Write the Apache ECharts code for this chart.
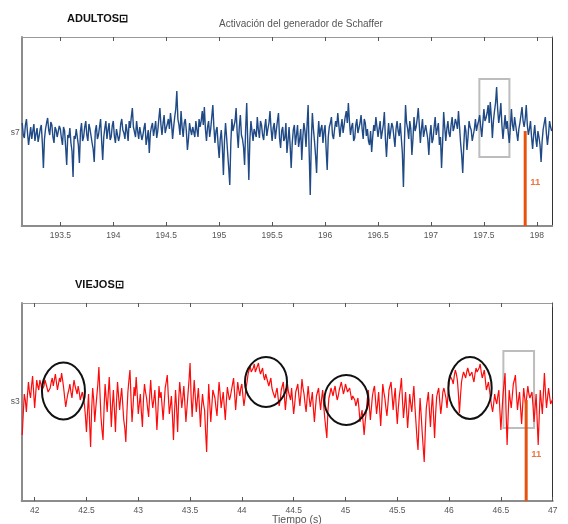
<!DOCTYPE html>
<html>
<head>
<meta charset="utf-8">
<script src="https://cdn.jsdelivr.net/npm/echarts@6/dist/echarts.min.js"></script>
<style>
  html, body { margin: 0; padding: 0; background: #fff; }
  #chart { width: 568px; height: 524px; }
</style>
</head>
<body>
<div id="chart"></div>
<script>
// ---- ADULTOS: channel s7 (evenly sampled between first and last time) ----
const adultFirst = 193.14;   // s
const adultLast = 198.14;    // s
const adultSignal = [
  10, -2, -5, 8, 14, 0, -12, -3, 6, -6, 2, 9, -8, -1, 5, -9, -3, 4, 8, -10,
  -35, -6, 4, 10, 15, 3, -2, 11, 8, -4, -10, 6, 3, -4, -6, 7, 4, -5, -12, 6,
  2, -14, -32, -2, -5, 5, -10, -18, -44, -3, -6, 4, 6, -12, -30, 2, 10, -8, -4, 6,
  12, -2, -8, 9, 4, -3, -10, -16, -29, 2, 8, -6, -2, 6, 14, -8, -27, -4, 5, 12,
  -6, 3, 10, -7, -4, 7, 12, -3, -10, 4, 6, -8, -3, 9, 14, 3, 0, -6, 9, 2,
  -8, 12, 5, 16, 25, 6, 4, -4, 12, 2, -6, 6, 8, -7, -2, 5, 10, -12, -5, 3,
  -20, 0, 6, 10, -3, 4, 12, -5, 2, 14, 25, 8, -2, 10, 18, 0, 5, 9, 14, 4,
  20, 10, -6, 6, 16, 24, 42, 14, 8, -2, 22, 6, -4, 10, 14, 2, -17, -6, 10, 3,
  -2, 6, 8, -4, 12, 3, -4, 14, 6, 12, 22, 8, 26, 4, -8, 6, 12, -4, 4, 16,
  28, 6, -10, 2, 6, -12, -25, -6, 3, -14, -42, -8, 10, -4, -20, -35, -52, -10, 14, 2,
  4, 12, 25, 0, -15, 6, 18, -2, -6, -14, -32, 4, 30, -10, -47, -6, 12, 2, -8, 4,
  6, -4, 16, 3, -5, 12, 8, -2, -7, 6, 14, -3, 4, 10, 22, 4, -8, 5, 10, -6,
  3, 12, 20, -5, -15, 2, 6, -8, -5, 10, -20, -8, 6, -12, -35, -10, 3, 8, -12, -2,
  8, -14, -6, 4, -27, -4, 10, 2, -14, 8, 28, -20, -62, -8, 20, 4, -8, -22, -40, -6,
  12, -4, 4, 8, -10, 2, 8, -16, -37, -4, 6, 10, 16, -2, -6, 4, 12, 6, 20, 8,
  -4, 6, 14, 0, 8, 16, 22, 10, 30, 12, -2, 6, 10, -8, -5, 8, 14, 0, 2, 10,
  18, 4, -6, 14, 10, -3, 4, -8, -12, 2, -19, -4, 8, 2, 16, 6, -4, 4, 12, -6,
  -8, 8, 21, -6, -24, -4, 10, -6, 2, 10, 6, -4, -14, 4, 12, 2, -3, 10, 8, -20,
  -54, -8, 28, 10, 4, -6, 12, 4, -22, -6, 16, 2, 6, 14, 25, 8, -10, 4, 14, -4,
  2, 8, 10, -6, -22, -2, 8, -10, -6, 6, 16, -2, 4, 10, -12, -4, -35, -10, 21, 6,
  -8, 4, 12, 0, -4, 8, 16, 2, 6, 14, 10, 4, 22, 6, -10, -22, -40, -12, 8, 2,
  -17, -4, 12, 6, 3, -8, -6, 4, 14, 2, 8, 12, 18, 6, -4, 10, 24, 12, 15, 20,
  28, 10, 31, 16, -5, 12, 22, 30, 46, 24, 10, 18, 30, 8, -6, 6, 18, 4, 12, 0,
  -10, 6, 24, 8, 2, 16, 14, 0, -8, 4, 10, 18, 26, 12, 6, 14, 28, 8, -2, 4,
  12, -4, -16, -2, 8, -6, -14, 2, -4, -12, -29, -8, 4, 10, 16, 0, -12, -2, 12, 6,
  2
];
const adultRange = [193.135, 198.145];
const adultAmp = [-93, 96];
const adultTicks = [193.5, 194, 194.5, 195, 195.5, 196, 196.5, 197, 197.5, 198];
const adultEvent = { time: 197.89, top: 2, labelAt: -49, text: '11' };
const adultBox = [[197.457, 54], [197.741, -24]];

// ---- VIEJOS: channel s3 ----
const elderFirst = 41.88;
const elderLast = 47.0;
const elderSignal = [
  -33, -12, 8, 2, -10, 6, 20, 10, 4, 16, 26, 10, -6, 8, 22, 16, 12, 22, 18, 12,
  10, 16, 22, 18, 14, 10, 8, 14, 20, 24, 16, 22, 28, 20, 12, 18, 24, 20, 29, 22,
  14, 4, -5, 2, 8, 12, 18, 10, 4, 14, 22, 16, 12, 8, 16, 10, 2, 6, 10, 4,
  -2, -14, -30, -10, 8, -20, -45, -8, 14, 2, -20, -6, 6, 18, 35, 10, -15, -28, -38, -6,
  18, 4, -10, 8, 25, 2, -25, -4, 12, -8, -30, 0, 20, 6, -8, 4, 14, -2, -18, -26,
  -40, -12, 10, 22, 32, 4, -20, -4, 15, 6, 25, 8, -12, -2, 8, -10, -25, 2, 18, 10,
  4, -6, -15, 6, 22, 4, -6, 2, 12, -6, -28, -8, 16, 4, 10, -4, -18, -2, 14, 20,
  27, 6, -12, -4, 6, -14, -38, -10, 12, -6, -30, 2, 20, 8, -6, 4, 16, -2, -20, -6,
  8, 22, 39, 6, -15, 4, 22, 6, -10, 2, 14, -4, -25, -6, 8, -2, -8, -30, -50, -12,
  18, -2, -20, -4, 12, 8, 4, -6, -14, 4, 20, 8, -6, 2, 10, -4, -18, 0, 15, 8,
  2, 6, 12, 18, 24, 8, -8, 6, 20, 12, 6, 14, 18, 6, -4, 4, 14, 20, 28, 32,
  36, 30, 30, 34, 38, 30, 32, 36, 39, 32, 28, 30, 34, 26, 22, 28, 30, 20, 16, 20,
  24, 14, 10, 8, 4, 10, 14, 4, -4, 2, 12, 16, 20, 6, -8, 4, 18, 10, 6, 2,
  14, 0, -12, -2, 10, 14, 18, 6, -4, 8, 23, 14, 8, -2, -10, 4, 16, 4, -5, 2,
  10, -6, -20, -6, 6, 10, 14, 2, -8, 4, 12, -4, -16, -26, -36, -10, 4, 8, 14, 10,
  6, 12, 16, 8, 2, 6, 12, 16, 20, 14, 8, 12, 18, 14, 10, 12, 14, 8, 2, 6,
  8, 2, -4, 0, 4, -6, -20, -14, -8, -20, -33, -20, -10, 2, 12, -4, -18, -6, 6, 12,
  16, 2, -12, -2, 10, -8, -24, -4, 18, 10, 4, -6, -14, -2, 12, 16, 20, 6, -8, 4,
  14, -6, -22, -6, 6, 14, 24, 2, -16, -4, 10, -8, -26, -10, 8, -2, -10, 4, 16, -4,
  -20, -36, -48, -20, 4, -12, -30, -45, -60, -30, -6, 2, 10, -8, -25, -6, 8, -14, -36, -12,
  5, 10, 14, 0, -12, -2, 10, 14, 16, 4, -6, 8, 22, 26, 28, 22, 18, 26, 32, 28,
  22, 8, -11, 6, 20, 26, 30, 28, 24, 30, 34, 30, 26, 28, 30, 24, 20, 28, 34, 30,
  28, 34, 38, 30, 24, 28, 32, 22, 12, 16, 20, 12, 4, -4, -10, -2, 8, 2, -2, 6,
  12, -8, -28, -10, 6, 18, 29, -10, -43, -14, 12, 2, -6, 6, 18, 22, 27, 8, -8, 2,
  10, -6, -22, -4, 14, 4, -4, 6, 16, 8, 4, 6, 10, -4, -20, -6, 8, -18, -43, -14,
  12, 0, -12, 8, 29, 10, -6, 4, 14, 6, -2, 0, 3
];
const elderRange = [41.875, 47.0];
const elderAmp = [-99, 99];
const elderTicks = [42, 42.5, 43, 43.5, 44, 44.5, 45, 45.5, 46, 46.5, 47];
const elderEvent = { time: 46.744, top: 2, labelAt: -52, text: '11' };
const elderBox = [[46.524, 51], [46.82, -26]];
// highlighted bursts: [centre time, centre value, half-width (s), half-height]
const elderBursts = [
  [42.278, 11, 0.2075, 28.5],
  [44.233, 20, 0.203, 25],
  [45.008, 2, 0.212, 25],
  [46.202, 14, 0.209, 31]
];

// pair each sample with its time stamp (uniform sampling)
function toPairs(first, last, vals) {
  const step = (last - first) / (vals.length - 1);
  return vals.map((v, i) => [first + i * step, v]);
}

const labelFont = { color: '#555', fontSize: 8.5, fontFamily: 'Liberation Sans, Arial, sans-serif' };
const eventColor = '#e8520f';

function bottomAxis(gridIndex, range, ticks) {
  return {
    type: 'value', gridIndex, position: 'bottom', min: range[0], max: range[1],
    axisLine: { show: true, onZero: false, lineStyle: { color: '#8c8c8c', width: 2 } },
    axisTick: { show: true, inside: true, length: 4, customValues: ticks, lineStyle: { color: '#555' } },
    axisLabel: Object.assign({ show: true, margin: 5, customValues: ticks, formatter: v => String(v) }, labelFont),
    splitLine: { show: false }
  };
}
function topAxis(gridIndex, range, ticks) {
  return {
    type: 'value', gridIndex, position: 'top', min: range[0], max: range[1],
    axisLine: { show: true, onZero: false, lineStyle: { color: '#9a9a9a', width: 1 } },
    axisTick: { show: true, inside: true, length: 4, customValues: ticks, lineStyle: { color: '#555' } },
    axisLabel: { show: false },
    splitLine: { show: false }
  };
}
function leftAxis(gridIndex, amp, name) {
  return {
    type: 'value', gridIndex, position: 'left', min: amp[0], max: amp[1],
    axisLine: { show: true, onZero: false, lineStyle: { color: '#8c8c8c', width: 2 } },
    axisTick: { show: false },
    axisLabel: Object.assign({ show: true, margin: 2, customValues: [0], formatter: () => name }, labelFont),
    splitLine: { show: false }
  };
}
function rightAxis(gridIndex, amp) {
  return {
    type: 'value', gridIndex, position: 'right', min: amp[0], max: amp[1],
    axisLine: { show: true, onZero: false, lineStyle: { color: '#333', width: 1 } },
    axisTick: { show: false }, axisLabel: { show: false }, splitLine: { show: false }
  };
}

function signalSeries(axisX, axisY, data, color, width, box) {
  return {
    type: 'line', xAxisIndex: axisX, yAxisIndex: axisY, data,
    symbol: 'none', sampling: null, z: 2,
    lineStyle: { color, width },
    markArea: {
      silent: true,
      itemStyle: { color: 'rgba(0,0,0,0)', borderColor: '#bdbdbd', borderWidth: 2 },
      data: [[{ coord: box[0] }, { coord: box[1] }]]
    }
  };
}
function eventSeries(axisX, axisY, ev, floor) {
  return [
    {
      type: 'line', xAxisIndex: axisX, yAxisIndex: axisY, symbol: 'none', z: 4,
      lineStyle: { color: eventColor, width: 3 },
      data: [[ev.time, ev.top], [ev.time, floor]]
    },
    {
      type: 'scatter', xAxisIndex: axisX, yAxisIndex: axisY, symbolSize: 0, z: 4,
      data: [[ev.time, ev.labelAt]],
      label: { show: true, position: 'right', distance: 5, formatter: ev.text,
               color: eventColor, fontSize: 9.5, fontWeight: 'bold', fontFamily: 'Liberation Sans, Arial, sans-serif' }
    }
  ];
}

const chart = echarts.init(document.getElementById('chart'), null, { renderer: 'canvas' });

chart.setOption({
  animation: false,
  backgroundColor: '#fff',
  grid: [
    { left: 21.7, top: 37, width: 530.5, height: 189 },
    { left: 21.7, top: 303, width: 531, height: 198 }
  ],
  xAxis: [
    bottomAxis(0, adultRange, adultTicks),
    topAxis(0, adultRange, adultTicks),
    bottomAxis(1, elderRange, elderTicks),
    topAxis(1, elderRange, elderTicks)
  ],
  yAxis: [
    leftAxis(0, adultAmp, 's7'),
    rightAxis(0, adultAmp),
    leftAxis(1, elderAmp, 's3'),
    rightAxis(1, elderAmp)
  ],
  series: [
    signalSeries(0, 0, toPairs(adultFirst, adultLast, adultSignal), '#1f4a86', 1.4, adultBox),
    ...eventSeries(0, 0, adultEvent, adultAmp[0]),
    signalSeries(2, 2, toPairs(elderFirst, elderLast, elderSignal), '#ff0a0a', 1.2, elderBox),
    ...eventSeries(2, 2, elderEvent, elderAmp[0]),
    {
      type: 'custom', xAxisIndex: 2, yAxisIndex: 2, z: 5, clip: false,
      data: elderBursts,
      encode: { x: 0, y: 1 },
      renderItem: (params, api) => {
        const c = api.coord([api.value(0), api.value(1)]);
        const s = api.size([api.value(2), api.value(3)]);
        return {
          type: 'ellipse',
          shape: { cx: c[0], cy: c[1], rx: s[0], ry: s[1] },
          style: { fill: 'none', stroke: '#111', lineWidth: 2 }
        };
      }
    }
  ],
  graphic: [
    { type: 'text', left: 67, top: 13,
      style: { text: 'ADULTOS\u22A1', fill: '#111', font: 'bold 11px Liberation Sans, Arial, sans-serif' } },
    { type: 'text', left: 219, top: 19,
      style: { text: 'Activación del generador de Schaffer', fill: '#555', font: '10px Liberation Sans, Arial, sans-serif' } },
    { type: 'text', left: 75, top: 279,
      style: { text: 'VIEJOS\u22A1', fill: '#111', font: 'bold 11px Liberation Sans, Arial, sans-serif' } },
    { type: 'text', left: 272, top: 515,
      style: { text: 'Tiempo (s)', fill: '#555', font: '10.5px Liberation Sans, Arial, sans-serif' } }
  ]
});
</script>
</body>
</html>
